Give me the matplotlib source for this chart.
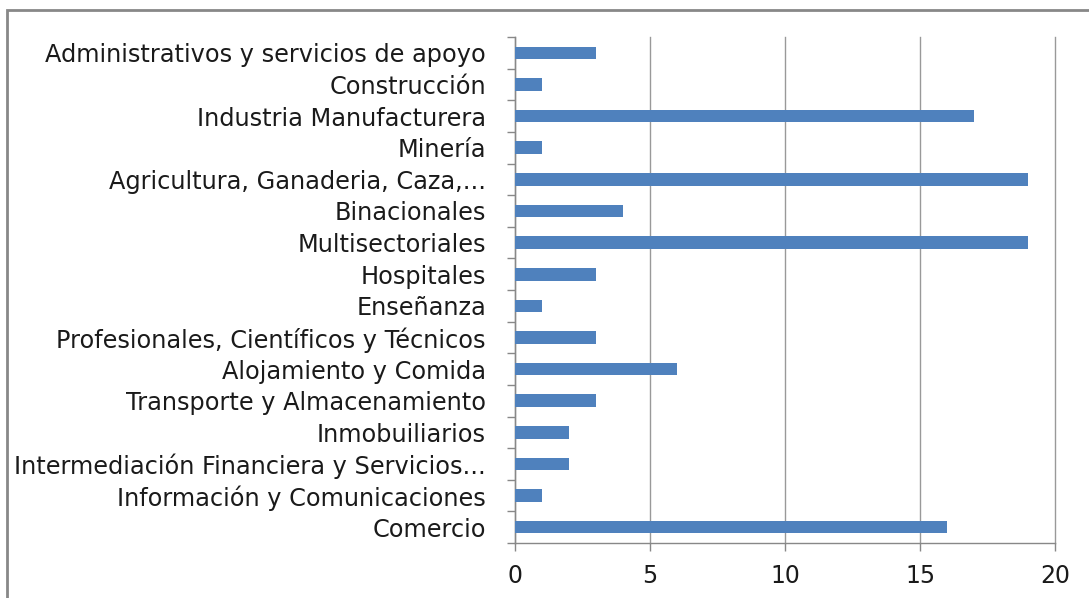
import matplotlib
matplotlib.use('Agg')
import matplotlib.pyplot as plt
from matplotlib.patches import Rectangle

categories = [
    'Administrativos y servicios de apoyo',
    'Construcción',
    'Industria Manufacturera',
    'Minería',
    'Agricultura, Ganaderia, Caza,...',
    'Binacionales',
    'Multisectoriales',
    'Hospitales',
    'Enseñanza',
    'Profesionales, Científicos y Técnicos',
    'Alojamiento y Comida',
    'Transporte y Almacenamiento',
    'Inmobuiliarios',
    'Intermediación Financiera y Servicios...',
    'Información y Comunicaciones',
    'Comercio',
]
values = [3, 1, 17, 1, 19, 4, 19, 3, 1, 3, 6, 3, 2, 2, 1, 16]
xticks = [0, 5, 10, 15, 20]

plt.rcParams['font.family'] = ['DejaVu Sans']

fig = plt.figure(figsize=(10.89, 5.98), dpi=100)
ax = fig.add_axes([0.473, 0.092, 0.496, 0.846])

n = len(categories)
ypos = list(range(n))[::-1]
ax.barh(ypos, values, height=0.4, color='#4F81BD', zorder=3)

ax.set_xlim(0, 20)
ax.set_ylim(-0.5, n - 0.5)
ax.set_xticks(xticks)
ax.set_xticklabels([str(t) for t in xticks], fontsize=17, color='#1a1a1a')
ax.tick_params(axis='x', length=6, color='#888888', width=1, pad=9)

# category labels at centres, tick marks at boundaries
ax.set_yticks(ypos)
ax.set_yticklabels(categories, fontsize=17.3, color='#1a1a1a')
ax.tick_params(axis='y', length=0, pad=21)
ax.set_yticks([i - 0.5 for i in range(n + 1)], minor=True)
ax.tick_params(axis='y', which='minor', length=6, color='#888888', width=1)

ax.grid(axis='x', color='#999999', linewidth=1, zorder=0)
for gl in ax.get_xgridlines():
    gl.set_clip_on(False)
for s in ['top', 'right']:
    ax.spines[s].set_visible(False)
for s in ['left', 'bottom']:
    ax.spines[s].set_color('#888888')
    ax.spines[s].set_linewidth(1)

# outer chart border
fig.patches.append(Rectangle((7 / 1089, -0.1), 1.2, 1 - 10 / 598 + 0.1,
                             transform=fig.transFigure, fill=False,
                             edgecolor='#888888', linewidth=2))

fig.savefig('out.png', dpi=100)
